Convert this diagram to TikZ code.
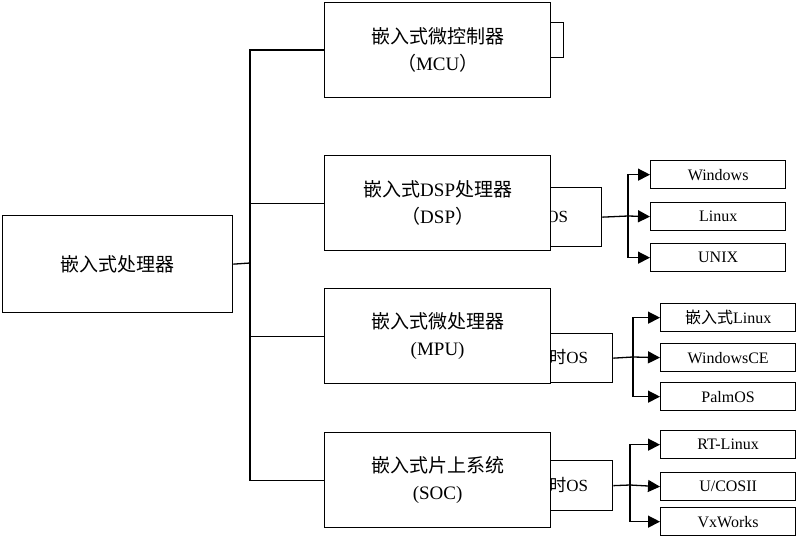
\documentclass[tikz,border=0pt]{standalone}
\usepackage{fontspec}
\setmainfont{Liberation Serif}
\newfontfamily\cjk{Noto Sans CJK SC}
\usetikzlibrary{arrows.meta}
\begin{document}
\begin{tikzpicture}[x=1pt,y=-1pt,line width=1.3pt,
  box/.style={draw,fill=white,line width=1.3pt},
  main/.style={box,minimum width=226pt,minimum height=95pt,align=center,font=\fontsize{19}{27}\selectfont,anchor=north west},
  leaf/.style={box,minimum height=28pt,anchor=north west,font=\fontsize{16}{18}\selectfont,inner sep=0pt},
  osb/.style={box,anchor=north west,minimum width=100pt},
  arr/.style={-{Triangle[length=12pt,width=12pt]}}]
\useasboundingbox (0,0) rectangle (800,543);
% hidden OS boxes
\node[osb,minimum height=35pt] (o0) at (463,22) {};
\node[osb,minimum height=59pt] (o1) at (501,187) {};
\node[anchor=east,font=\fontsize{17}{19}\selectfont] (t1) at (572,216) {{\cjk 实时}OS};
\node[osb,minimum height=49pt] (o2) at (512,333) {};
\node[anchor=east,font=\fontsize{17}{19}\selectfont] (t2) at (592,357) {{\cjk 实时}OS};
\node[osb,minimum height=50pt] (o3) at (512,460) {};
\node[anchor=east,font=\fontsize{17}{19}\selectfont] (t3) at (592,485) {{\cjk 实时}OS};
% main boxes
\node[main,minimum width=230pt,minimum height=97pt] (root) at (2,215) {\cjk 嵌入式处理器};
\node[main] (m0) at (324,2) {{\cjk 嵌入式微控制器}\\{\cjk （}MCU{\cjk ）}};
\node[main] (m1) at (324,155) {{\cjk 嵌入式}DSP{\cjk 处理器}\\{\cjk （}DSP{\cjk ）}};
\node[main] (m2) at (324,288) {{\cjk 嵌入式微处理器}\\(MPU)};
\node[main] (m3) at (324,432) {{\cjk 嵌入式片上系统}\\(SOC)};
\coordinate (v) at (250,263);
\draw (root.east) -- (v);
\draw (m0.west) -| (v) |- (m3.west);
\draw (m1.west) -| (v);
\draw (m2.west) -| (v);
% leaves
\node[leaf,minimum width=135pt] (a1) at (650,160) {Windows};
\node[leaf,minimum width=135pt] (a2) at (650,202) {Linux};
\node[leaf,minimum width=135pt] (a3) at (650,243) {UNIX};
\node[leaf,minimum width=135pt] (b1) at (660,303) {{\cjk 嵌入式}Linux};
\node[leaf,minimum width=135pt] (b2) at (660,343) {WindowsCE};
\node[leaf,minimum width=135pt] (b3) at (660,382) {PalmOS};
\node[leaf,minimum width=135pt] (c1) at (660,430) {RT-Linux};
\node[leaf,minimum width=135pt] (c2) at (660,472) {U/COSII};
\node[leaf,minimum width=135pt] (c3) at (660,507) {VxWorks};
\coordinate (h1) at (628,216);
\coordinate (h2) at (633,357);
\coordinate (h3) at (630,485);
\draw (o1.east) -- (h1);
\draw[arr] (h1) |- (a1.west);
\draw[arr] (h1) -- (a2.west);
\draw[arr] (h1) |- (a3.west);
\draw (o2.east) -- (h2);
\draw[arr] (h2) |- (b1.west);
\draw[arr] (h2) -- (b2.west);
\draw[arr] (h2) |- (b3.west);
\draw (o3.east) -- (h3);
\draw[arr] (h3) |- (c1.west);
\draw[arr] (h3) -- (c2.west);
\draw[arr] (h3) |- (c3.west);
\end{tikzpicture}
\end{document}
